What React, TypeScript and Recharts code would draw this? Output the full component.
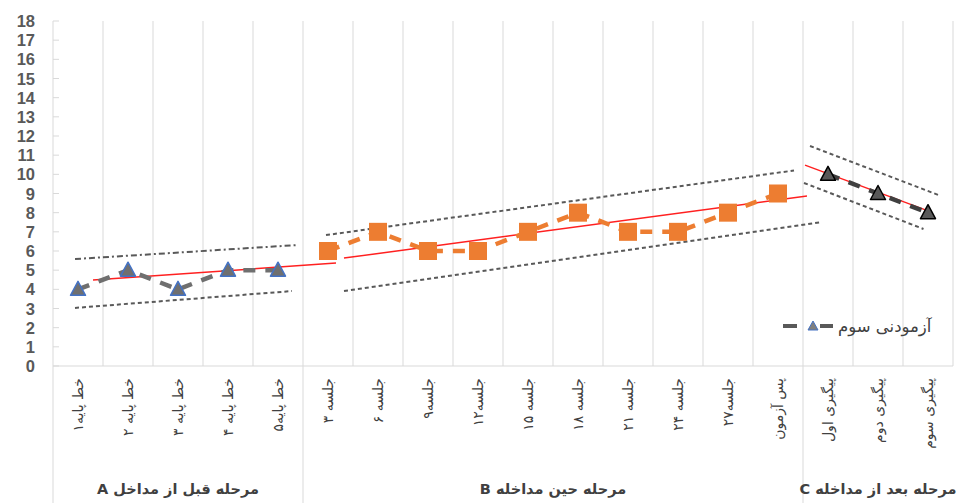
import React from "react";
import {
  LineChart,
  Line,
  XAxis,
  YAxis,
  ReferenceLine,
  ReferenceDot,
} from "recharts";

// category labels, one per column
const categories = [
  "خط پایه۱", "خط پایه ۲", "خط پایه ۳", "خط پایه ۴", "خط پایه۵",
  "جلسه ۳", "جلسه ۶", "جلسه۹", "جلسه۱۲", "جلسه ۱۵", "جلسه ۱۸", "جلسه ۲۱", "جلسه ۲۴", "جلسه۲۷", "پس آزمون",
  "پیگیری اول", "پیگیری دوم", "پیگیری سوم",
];

const phaseA = [4, 5, 4, 5, 5];
const phaseB = [6, 7, 6, 6, 7, 8, 7, 7, 8, 9];
const phaseC = [10, 9, 8];

const groups = [
  { label: "مرحله قبل از مداخل A", from: 0, to: 5 },
  { label: "مرحله حین مداخله B", from: 5, to: 15 },
  { label: "مرحله بعد از مداخله C", from: 15, to: 18 },
];

// trend lines (red) and bands (dashed gray)
const trendA = [{ x: 0.8, y: 4.49 }, { x: 5.66, y: 5.37 }];
const upperA = [{ x: 0.44, y: 5.58 }, { x: 4.88, y: 6.31 }];
const lowerA = [{ x: 0.44, y: 3.03 }, { x: 4.78, y: 3.91 }];
const trendB = [{ x: 5.82, y: 5.63 }, { x: 15.08, y: 8.87 }];
const upperB = [{ x: 5.46, y: 6.83 }, { x: 14.82, y: 10.2 }];
const lowerB = [{ x: 5.82, y: 3.91 }, { x: 15.38, y: 7.51 }];
const trendC = [{ x: 15.04, y: 10.48 }, { x: 17.57, y: 8.03 }];
const upperC = [{ x: 15.14, y: 11.48 }, { x: 17.71, y: 8.92 }];
const lowerC = [{ x: 15.02, y: 9.55 }, { x: 17.41, y: 7.15 }];

const yTicks = Array.from({ length: 19 }, (_, i) => i);
const xTicks = categories.map((_, i) => i + 0.5);
const gridXs = categories.map((_, i) => i + 1);

const toPoints = (vals: number[], start: number) =>
  vals.map((v, i) => ({ x: start + i + 0.5, y: v }));

const dataA = toPoints(phaseA, 0);
const dataB = toPoints(phaseB, 5);
const dataC = toPoints(phaseC, 15);

const FA = "'DejaVu Sans', sans-serif";

function triangle(fill: string, stroke: string) {
  return (p: any) => {
    const { cx, cy, index } = p;
    return (
      <path
        key={`t-${index}`}
        d={`M${cx},${cy - 8} L${cx + 7.5},${cy + 6} L${cx - 7.5},${cy + 6} Z`}
        fill={fill}
        stroke={stroke}
        strokeWidth={1.5}
        strokeLinejoin="round"
      />
    );
  };
}

function square(p: any) {
  const { cx, cy, index } = p;
  return <rect key={`s-${index}`} x={cx - 9} y={cy - 9} width={18} height={18} fill="#ed7d31" />;
}

function YTick(props: any) {
  const { x, y, payload } = props;
  return (
    <g>
      <line x1={x + 18} x2={x + 24} y1={y} y2={y} stroke="#d9d9d9" />
      <text
        x={x}
        y={y}
        textAnchor="end"
        dominantBaseline="central"
        fill="#595959"
        fontFamily="'Liberation Sans', Arial, sans-serif"
        fontWeight="bold"
        fontSize={16.5}
      >
        {payload.value}
      </text>
    </g>
  );
}

function XTick(props: any) {
  const { x, y, payload } = props;
  const label = categories[Math.floor(payload.value)];
  return (
    <text
      x={x}
      y={y}
      transform={`rotate(-90, ${x}, ${y})`}
      textAnchor="end"
      dominantBaseline="central"
      fill="#404040"
      fontFamily={FA}
      fontSize={14}
    >
      {label}
    </text>
  );
}

function LegendBox() {
  return (
    <div
      style={{
        position: "absolute",
        left: 781,
        top: 315,
        display: "flex",
        alignItems: "center",
        fontFamily: FA,
        fontSize: 16.5,
        color: "#404040",
        whiteSpace: "nowrap",
      }}
    >
      <svg width={54} height={22}>
        <line x1={2} x2={16} y1={11} y2={11} stroke="#595959" strokeWidth={4} />
        <line x1={39} x2={52} y1={11} y2={11} stroke="#595959" strokeWidth={4} />
        <path d="M32,6 L37,15 L27,15 Z" fill="#7f7f7f" stroke="#4472c4" strokeWidth={1} />
      </svg>
      <span style={{ marginLeft: 3 }}>آزمودنی سوم</span>
    </div>
  );
}

export default function App() {
  return (
    <div style={{ position: "fixed", left: 0, top: 0, width: 957, height: 503, background: "#fff" }}>
      <LineChart width={957} height={503} margin={{ top: 21, right: 4, bottom: 0, left: 0 }}>
        <XAxis
          type="number"
          dataKey="x"
          domain={[0, 18]}
          ticks={xTicks}
          interval={0}
          tick={<XTick />}
          tickLine={false}
          tickSize={0}
          tickMargin={12}
          height={137}
          axisLine={{ stroke: "#d9d9d9" }}
        />
        <YAxis
          type="number"
          domain={[0, 18]}
          ticks={yTicks}
          interval={0}
          tick={<YTick />}
          tickLine={false}
          tickSize={0}
          tickMargin={18}
          width={53}
          axisLine={{ stroke: "#d9d9d9" }}
        />
        {gridXs.map((gx) => (
          <ReferenceLine key={`g-${gx}`} x={gx} stroke="#d9d9d9" />
        ))}
        {[0, ...groups.slice(1).map((g) => g.from)].map((sx) => (
          <ReferenceLine
            key={`sep-${sx}`}
            segment={[{ x: sx, y: 0 }, { x: sx, y: -7.4 }]}
            stroke="#d9d9d9"
            ifOverflow="visible"
          />
        ))}
        {groups.map((g) => (
          <ReferenceDot
            key={`gl-${g.from}`}
            x={(g.from + g.to) / 2}
            y={-6.4}
            r={0}
            ifOverflow="visible"
            label={(p: any) => (
              <text
                x={p.viewBox.x + p.viewBox.width / 2}
                y={p.viewBox.y + p.viewBox.height / 2}
                textAnchor="middle"
                dominantBaseline="central"
                direction="rtl"
                fill="#404040"
                fontFamily={FA}
                fontWeight="bold"
                fontSize={14.5}
              >
                {g.label}
              </text>
            )}
          />
        ))}
        {[upperA, lowerA, upperB, lowerB, upperC, lowerC].map((d, i) => (
          <Line
            key={`band-${i}`}
            data={d}
            dataKey="y"
            stroke="#595959"
            strokeWidth={2}
            strokeDasharray={i === 0 ? "6 3 2 3" : "4 3"}
            dot={false}
            legendType="none"
            isAnimationActive={false}
          />
        ))}
        {[trendA, trendB, trendC].map((d, i) => (
          <Line
            key={`trend-${i}`}
            data={d}
            dataKey="y"
            stroke="#ff2020"
            strokeWidth={1.5}
            dot={false}
            legendType="none"
            isAnimationActive={false}
          />
        ))}
        <Line
          data={dataA}
          dataKey="y"
          name="آزمودنی سوم"
          stroke="#6f6f6f"
          strokeWidth={4.5}
          strokeDasharray="12 10"
          dot={triangle("#6f6f6f", "#4472c4")}
          isAnimationActive={false}
        />
        <Line
          data={dataB}
          dataKey="y"
          stroke="#ed7d31"
          strokeWidth={4.5}
          strokeDasharray="12 10"
          dot={square}
          legendType="none"
          isAnimationActive={false}
        />
        <Line
          data={dataC}
          dataKey="y"
          stroke="#404040"
          strokeWidth={4.5}
          strokeDasharray="12 10"
          dot={triangle("#595959", "#000000")}
          legendType="none"
          isAnimationActive={false}
        />
      </LineChart>
      <LegendBox />
    </div>
  );
}
